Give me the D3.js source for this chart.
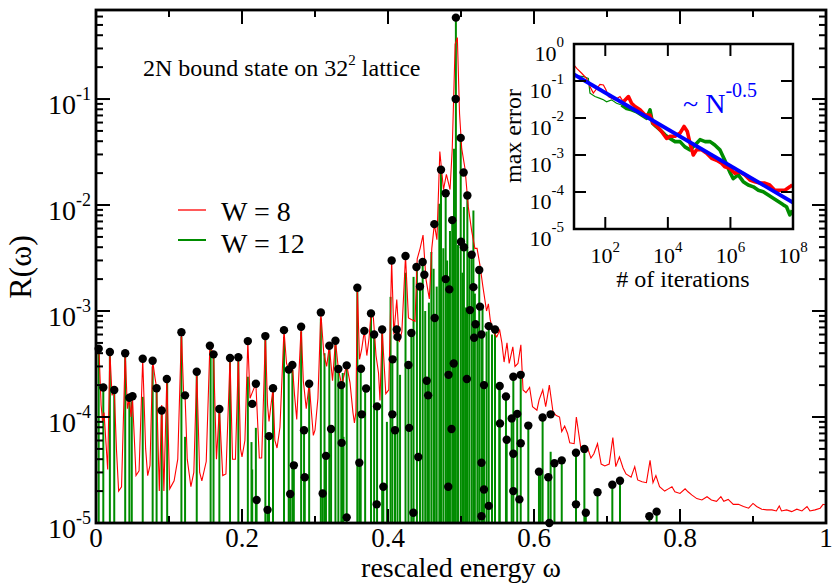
<!DOCTYPE html>
<html><head><meta charset="utf-8">
<script src="https://cdn.jsdelivr.net/npm/d3@7"></script>
<style>
body{margin:0;background:#fff}
svg{display:block}
text{font-family:"Liberation Serif","DejaVu Serif",serif;fill:#000}
</style>
</head><body>
<svg id="c" width="834" height="584"></svg>
<script>
// ---------------- DATA ----------------
const xTickValues = [0, 0.2, 0.4, 0.6, 0.8, 1];
const xTickLabels = ["0", "0.2", "0.4", "0.6", "0.8", "1"];
const yTickExponents = [-5, -4, -3, -2, -1];
const insetXExponents = [2, 4, 6, 8];
const insetYExponents = [0, -1, -2, -3, -4, -5];
const legendLabels = ["W = 8", "W = 12"];

// W = 8 (red line): [omega, R]
const redW8 = [
[0.000,3.8e-4],[0.004,4.4e-4],[0.007,1.3e-4],[0.009,9e-5],[0.011,1.1e-4],[0.016,3.2e-5],[0.019,4.1e-4],[0.022,1.6e-4],[0.025,1.8e-4],[0.028,5e-5],[0.031,2.0e-5],[0.035,2.2e-5],[0.040,4.0e-4],[0.043,1.2e-4],[0.0457,1.5e-4],[0.048,1.0e-4],[0.050,1.5e-4],[0.0548,2.8e-5],[0.059,3.1e-5],[0.064,3.5e-4],[0.068,5e-5],[0.0708,2.8e-5],[0.074,3.5e-5],[0.0776,3.4e-4],[0.081,2.3e-4],[0.083,1.9e-4],[0.0867,2.0e-5],[0.090,1.3e-4],[0.093,2.0e-5],[0.097,2.3e-4],[0.101,2.1e-5],[0.107,2.5e-5],[0.112,4e-5],[0.117,6.3e-4],[0.120,1.7e-4],[0.122,1.6e-4],[0.125,4e-5],[0.130,2.2e-5],[0.134,3e-5],[0.138,2.7e-4],[0.142,3e-5],[0.145,2.5e-5],[0.151,3.8e-5],[0.156,4.7e-4],[0.161,3.9e-4],[0.165,4e-5],[0.169,1.2e-4],[0.1736,2.8e-5],[0.178,2.9e-5],[0.1836,3.6e-4],[0.187,4e-5],[0.191,4.0e-5],[0.195,3.66e-4],[0.198,5e-5],[0.200,4.2e-5],[0.204,6e-5],[0.208,5.2e-4],[0.211,1.5e-4],[0.214,1.7e-4],[0.219,2.06e-4],[0.2237,4.1e-5],[0.227,4.1e-5],[0.232,5.8e-4],[0.235,1.3e-4],[0.237,9.1e-5],[0.2425,1.87e-4],[0.245,6e-5],[0.248,5.1e-5],[0.252,8e-5],[0.2575,6.6e-4],[0.261,3.2e-4],[0.264,2.8e-4],[0.269,3.1e-4],[0.272,1.6e-4],[0.275,9.5e-5],[0.281,7.1e-4],[0.284,2.2e-4],[0.288,1.2e-4],[0.292,2.06e-4],[0.2977,6.7e-5],[0.300,7.5e-5],[0.304,1.5e-4],[0.308,9.7e-4],[0.312,4.0e-4],[0.316,3.0e-4],[0.3196,4.7e-4],[0.324,2.2e-4],[0.328,5.25e-4],[0.332,2.84e-4],[0.3366,2.0e-4],
[0.3434,3.1e-4],[0.348,2.1e-4],[0.352,1.1e-4],[0.354,8.8e-5],[0.356,1.1e-4],[0.358,1.66e-3],[0.361,3.5e-4],[0.364,4.4e-4],[0.3676,6.5e-4],[0.371,3.8e-4],[0.374,5.5e-4],[0.3767,9.5e-4],[0.380,8.6e-4],[0.3836,3.8e-4],[0.387,2.6e-4],[0.389,1.43e-4],[0.392,6.7e-4],[0.397,1.66e-4],[0.401,1.8e-4],[0.405,3.0e-3],[0.408,6.0e-4],[0.412,1.28e-3],[0.4155,5.1e-4],[0.419,6.4e-4],[0.424,3.3e-3],[0.428,8.6e-4],[0.432,8.3e-4],[0.437,8.0e-4],[0.440,3.1e-3],[0.444,3.9e-3],[0.448,5.2e-3],[0.452,2.0e-3],[0.4566,1.3e-3],[0.460,3.9e-3],[0.4635,6.6e-3],[0.467,4.7e-3],[0.471,3.2e-2],[0.476,1.4e-2],[0.480,1.95e-2],[0.485,1.4e-2],[0.488,3.4e-2],[0.492,0.33],[0.495,0.38],[0.498,7.3e-2],[0.501,3.4e-2],[0.5055,2.2e-2],[0.510,9.6e-3],[0.5146,5.7e-3],[0.519,3.9e-3],[0.522,3.9e-3],[0.526,2.7e-3],[0.530,1.7e-3],[0.535,1.0e-3],[0.5375,1.17e-3],[0.540,8.3e-4],[0.544,6.4e-4],[0.549,5.7e-4],
[0.553,6.6e-4],[0.556,5e-4],[0.559,3.3e-4],[0.563,5e-4],[0.566,3.2e-4],[0.571,4.6e-4],[0.574,3.0e-4],[0.578,3.2e-4],[0.582,4.8e-4],[0.585,1.8e-4],[0.589,1.7e-4],[0.594,1.9e-4],[0.598,1.25e-4],[0.604,1.16e-4],[0.607,1.45e-4],[0.612,1.8e-4],[0.616,1.25e-4],[0.621,2.0e-4],[0.626,1.12e-4],[0.630,1.04e-4],[0.635,1.0e-4],[0.638,7.3e-5],[0.642,8.2e-5],[0.646,7e-5],[0.649,5.7e-5],[0.655,5.6e-5],[0.658,1.0e-4],[0.664,5.2e-5],[0.668,4.9e-5],[0.673,5.2e-5],[0.678,4.1e-5],[0.682,4.5e-5],[0.687,5.6e-5],[0.692,3.6e-5],[0.697,3.45e-5],[0.703,3.6e-5],[0.708,6.4e-5],[0.712,3.4e-5],[0.717,4.2e-5],[0.722,3.3e-5],[0.726,2.9e-5],[0.733,2.7e-5],[0.738,3.4e-5],[0.742,2.55e-5],[0.748,2.45e-5],[0.754,2.4e-5],[0.759,3.9e-5],[0.763,2.4e-5],[0.767,2.8e-5],[0.772,2.2e-5],[0.779,2.0e-5],[0.784,2.1e-5],[0.789,2.2e-5],[0.793,1.97e-5],[0.800,1.9e-5],[0.807,2.1e-5],[0.811,1.97e-5],[0.816,1.84e-5],[0.823,1.7e-5],[0.830,1.65e-5],[0.837,1.77e-5],[0.843,1.65e-5],[0.850,1.6e-5],[0.856,1.77e-5],[0.860,1.6e-5],[0.866,1.67e-5],[0.873,1.5e-5],[0.880,1.5e-5],[0.887,1.43e-5],[0.894,1.38e-5],[0.900,1.53e-5],[0.905,1.43e-5],[0.912,1.35e-5],[0.919,1.33e-5],[0.926,1.33e-5],[0.932,1.3e-5],[0.936,1.45e-5],[0.939,1.3e-5],[0.946,1.33e-5],[0.953,1.28e-5],[0.960,1.35e-5],[0.967,1.3e-5],[0.974,1.43e-5],[0.978,1.3e-5],[0.985,1.33e-5],[0.992,1.38e-5],[0.996,1.5e-5],[1.000,1.48e-5]
];

// W = 12 (green, spiky): [omega, R] of each spike top
const greenW12 = [
[0.0037,4.4e-4],[0.010,1.9e-4],[0.019,4.1e-4],[0.025,1.8e-4],[0.040,4.0e-4],[0.0457,1.5e-4],[0.049,1.4e-4],[0.064,1.55e-4],[0.0776,3.0e-4],[0.083,1.87e-4],[0.090,1.1e-4],[0.0975,2.2e-4],[0.117,5.7e-4],[0.122,6.5e-5],[0.138,2.6e-4],[0.157,4.3e-4],[0.161,3.9e-4],[0.169,1.16e-4],[0.1836,3.45e-4],[0.195,3.45e-4],[0.208,2.4e-4],[0.213,5.8e-5],[0.214,3.2e-5],[0.219,7.9e-5],[0.220,1.65e-5],[0.232,5.7e-4],[0.235,1.33e-5],[0.237,6.5e-5],[0.2425,1.8e-4],[0.2575,5.7e-4],[0.264,2.8e-4],[0.266,1.88e-5],[0.269,2.8e-4],[0.271,3.5e-5],[0.281,6.4e-4],[0.285,7.3e-5],[0.286,2.7e-5],[0.292,2.0e-4],[0.308,8.5e-4],[0.3105,1.9e-5],[0.313,4.0e-4],[0.315,4.3e-5],[0.3196,4.3e-4],[0.322,7.7e-5],[0.328,5.0e-4],[0.332,2.8e-4],[0.336,1.9e-4],[0.339,6.5e-5],
[0.338,2.6e-4],[0.3434,3.0e-4],[0.358,1.58e-3],[0.3607,3.7e-5],[0.3626,2.8e-4],[0.3687,1.86e-4],[0.3767,9.3e-4],[0.381,5.7e-4],[0.385,1.23e-4],[0.392,6.4e-4],[0.3936,2.2e-5],[0.3985,9e-5],[0.4035,1.36e-3],[0.406,3.5e-4],[0.4096,7.5e-5],[0.413,5.7e-4],[0.4165,2.5e-4],[0.424,2.3e-3],[0.428,3.1e-4],[0.432,6.2e-4],[0.4347,1.25e-5],[0.435,2.1e-3],[0.4396,2.5e-3],[0.4438,1.7e-3],[0.4475,2.9e-3],[0.451,1.0e-3],[0.4539,2.16e-4],[0.456,1.2e-3],[0.4594,3.6e-3],[0.4625,2.5e-3],[0.464,8.6e-4],[0.4667,1.7e-3],[0.4703,1.03e-2],[0.4726,2.0e-2],[0.4758,3.9e-3],[0.479,1.24e-2],[0.481,3e-3],[0.4826,1.98e-3],[0.4849,5.7e-3],[0.488,7.1e-3],[0.4904,3.4e-2],[0.493,0.586],[0.4959,4.2e-3],[0.4996,4.1e-2],[0.502,2.3e-3],[0.504,9.6e-3],[0.5068,1.08e-3],[0.5087,1.15e-2],[0.5114,3.6e-3],[0.5146,3.35e-3],[0.517,8.9e-3],[0.519,1.46e-3],[0.5224,8.0e-4],[0.525,2.4e-3],[0.528,5.7e-4],[0.5295,1.1e-3],[0.5315,2.0e-4],[0.535,6.4e-4],[0.538,6.9e-4],[0.5425,6.0e-4],[0.5466,6.4e-4],[0.5525,1.86e-4],
[0.553,1.96e-4],[0.5616,1.56e-4],[0.5626,6.1e-5],[0.5694,9.7e-5],[0.5717,2.4e-4],[0.577,1.07e-4],[0.5818,2.5e-4],[0.5922,8.3e-5],[0.6068,3.05e-5],[0.609,2.9e-5],[0.6118,9.9e-5],[0.6196,2.7e-5],[0.6228,4.7e-5],[0.628,3.66e-5],[0.638,3.9e-5],[0.6575,4.6e-5],[0.669,5.0e-5],[0.671,1.25e-5],[0.687,1.95e-5],[0.7073,2.3e-5],[0.7178,2.5e-5],[0.758,1.16e-5],[0.768,1.28e-5]
];

// black circles: [omega, R]
const exactDots = [
[0.0037,4.4e-4],[0.010,1.9e-4],[0.019,4.1e-4],[0.025,1.8e-4],[0.040,4.0e-4],[0.0457,1.52e-4],[0.050,1.57e-4],[0.064,3.55e-4],[0.0776,3.4e-4],[0.083,1.87e-4],[0.090,1.15e-4],[0.097,2.28e-4],[0.117,6.3e-4],[0.122,1.6e-4],[0.138,2.67e-4],[0.156,4.7e-4],[0.161,3.9e-4],[0.169,1.19e-4],[0.1836,3.6e-4],[0.195,3.66e-4],[0.208,5.2e-4],[0.214,1.33e-4],[0.219,2.06e-4],[0.220,1.65e-5],[0.232,5.8e-4],[0.235,1.33e-5],[0.237,6.6e-5],[0.2425,1.87e-4],[0.2575,6.6e-4],[0.264,2.8e-4],[0.266,1.88e-5],[0.269,3.1e-4],[0.271,3.5e-5],[0.281,7.1e-4],[0.285,7.5e-5],[0.286,2.7e-5],[0.292,2.06e-4],[0.308,9.7e-4],[0.3105,1.9e-5],[0.315,4.3e-5],[0.3196,4.7e-4],[0.322,7.7e-5],[0.328,5.25e-4],[0.332,2.84e-4],[0.336,2.0e-4],
[0.493,0.586],[0.4927,1.0e-1],[0.4996,4.3e-2],[0.4726,2.15e-2],[0.5036,2.03e-2],[0.479,1.29e-2],[0.5087,1.23e-2],[0.4635,6.6e-3],[0.488,7.2e-3],[0.500,4.5e-3],[0.504,4.0e-3],[0.5146,3.4e-3],[0.405,3.0e-3],[0.424,3.3e-3],[0.439,2.6e-3],[0.4475,2.9e-3],[0.4498,2.2e-3],[0.4438,1.7e-3],[0.525,2.44e-3],[0.479,2.0e-3],[0.484,1.6e-3],[0.517,1.68e-3],[0.358,1.66e-3],[0.3767,9.5e-4],[0.3676,6.5e-4],[0.381,6.0e-4],[0.392,6.7e-4],[0.412,6.7e-4],[0.413,5.7e-4],[0.432,6.2e-4],[0.464,8.6e-4],[0.5123,1.02e-3],[0.526,1.1e-3],[0.520,7.5e-4],[0.518,5.6e-4],[0.528,6.0e-4],[0.538,7.2e-4],[0.5466,6.7e-4],[0.3434,3.07e-4],[0.363,2.85e-4],[0.370,1.86e-4],[0.4064,3.5e-4],[0.428,3.1e-4],[0.453,2.2e-4],[0.455,1.6e-4],[0.490,3.2e-4],[0.483,2.5e-4],[0.508,2.28e-4],[0.5315,2.0e-4],[0.385,1.26e-4],[0.364,1.06e-4],[0.406,1.06e-4],[0.4096,7.5e-5],[0.429,7.9e-5],[0.487,7.7e-5],[0.3365,5.7e-5],[0.3607,3.7e-5],[0.4415,4.2e-5],[0.528,3.7e-5],[0.3936,2.2e-5],[0.4826,2.2e-5],[0.5315,2.07e-5],[0.3845,1.5e-5],[0.4347,1.25e-5],[0.538,1.45e-5],[0.3434,1.13e-5],[0.528,1.16e-5],
[0.553,1.96e-4],[0.5534,8.7e-5],[0.5616,1.56e-4],[0.5626,6.1e-5],[0.5717,2.4e-4],[0.5818,2.5e-4],[0.5694,9.7e-5],[0.577,1.07e-4],[0.5717,4.5e-5],[0.5818,5.65e-5],[0.5922,8.3e-5],[0.5717,2.0e-5],[0.580,1.67e-5],[0.6118,9.9e-5],[0.6228,1.06e-4],[0.6068,3.05e-5],[0.6196,2.7e-5],[0.628,3.66e-5],[0.638,3.9e-5],[0.621,1.0e-5],[0.6575,4.6e-5],[0.669,5.0e-5],[0.6575,1.5e-5],[0.671,1.25e-5],[0.687,1.95e-5],[0.7073,2.3e-5],[0.7178,2.5e-5],[0.758,1.16e-5],[0.768,1.28e-5]
];

// inset: [iterations, max error]
const insetRedW8 = [
[10,0.27],[12.2,0.22],[17.6,0.162],[25.4,0.117],[32.4,0.071],[41.4,0.047],[50,0.058],[67.6,0.081],[87,0.078],[105,0.058],[126,0.038],[158,0.034],[204,0.031],[295,0.038],[380,0.0275],[550,0.038],[692,0.025],[891,0.0204],[1290,0.0166],[1860,0.012],[2690,0.012],[3390,0.0072],[4570,0.0059],[6310,0.0043],[9120,0.0028],[1.17e4,0.0032],[1.7e4,0.0032],[2.45e4,0.0039],[3.3e4,0.0059],[4.2e4,0.0043],[5.1e4,0.0021],[6.5e4,0.001],[8.3e4,0.00138],[1.2e5,0.00138],[1.74e5,0.00112],[2.5e5,0.00081],[3.6e5,0.00072],[5.2e5,0.0006],[6.6e5,0.00048],[9.5e5,0.00044],[1.38e6,0.00032],[2.0e6,0.00035],[2.9e6,0.00029],[4.2e6,0.00021],[6.0e6,0.00019],[8.7e6,0.000174],[1.26e7,0.000174],[1.8e7,0.000155],[2.6e7,0.000112],[3.8e7,0.000112],[5.5e7,0.000112],[7.9e7,0.000138],[9.5e7,0.000155]
];
const insetGreenW12 = [
[10,0.145],[12.3,0.138],[20,0.132],[28.8,0.117],[32.4,0.047],[46.8,0.038],[67.6,0.034],[87,0.031],[110,0.0275],[158,0.031],[229,0.025],[331,0.0224],[479,0.018],[692,0.0166],[1000,0.0148],[1445,0.012],[2090,0.0098],[2690,0.0166],[3240,0.0072],[4170,0.0059],[5620,0.0048],[8130,0.0035],[1.17e4,0.0028],[1.7e4,0.0023],[2.45e4,0.0023],[3.5e4,0.00166],[5.1e4,0.00138],[7.4e4,0.00186],[1.07e5,0.0026],[1.55e5,0.0023],[2.24e5,0.0023],[3.16e5,0.00186],[4.6e5,0.00138],[6.6e5,0.00072],[9.5e5,0.00035],[1.23e6,0.00023],[1.78e6,0.00029],[2.57e6,0.00019],[3.7e6,0.000155],[5.4e6,0.000138],[7.8e6,0.000112],[1.12e7,0.000102],[1.62e7,8.3e-5],[2.34e7,6.8e-5],[3.4e7,5.5e-5],[4.9e7,4.5e-5],[6.2e7,4.0e-5],[7.9e7,2.4e-5],[9.5e7,3.2e-5]
];
const insetFit = [[10,0.15],[1e8,5.2e-5]];

// ---------------- DRAW ----------------
const svg = d3.select('#c');
svg.append('rect').attr('width',834).attr('height',584).attr('fill','#fff');
const M = {l:96, r:826, t:10, b:523};
const x = d3.scaleLinear().domain([0,1]).range([M.l,M.r]);
const y = d3.scaleLog().domain([1e-5, Math.pow(10,-0.16)]).range([M.b,M.t]);
const RED = '#ff0000', GREEN = '#008c00', BLUE = '#0000ff';

const defs = svg.append('defs');
defs.append('clipPath').attr('id','mainClip').append('rect')
  .attr('x',M.l).attr('y',M.t).attr('width',M.r-M.l).attr('height',M.b-M.t);

const plot = svg.append('g').attr('clip-path','url(#mainClip)');
plot.selectAll('line.stem').data(greenW12).enter().append('line')
  .attr('x1',d=>x(d[0])).attr('x2',d=>x(d[0]))
  .attr('y1',M.b+3).attr('y2',d=>y(d[1]))
  .attr('stroke',GREEN).attr('stroke-width',2.0);
plot.append('path').datum(redW8)
  .attr('d',d3.line().x(d=>x(d[0])).y(d=>y(d[1])))
  .attr('fill','none').attr('stroke',RED).attr('stroke-width',1.1);

svg.append('g').selectAll('circle').data(exactDots).enter().append('circle')
  .attr('cx',d=>x(d[0])).attr('cy',d=>y(d[1])).attr('r',4.2).attr('fill','#000');

// axes frame
const ax = svg.append('g').attr('stroke','#000');
ax.append('rect').attr('x',M.l).attr('y',M.t).attr('width',M.r-M.l).attr('height',M.b-M.t)
  .attr('fill','none').attr('stroke-width',2.8);
d3.range(0,11).forEach(i=>{
  const v=i/10, px=x(v), len=(i%2===0)?14:7;
  ax.append('line').attr('x1',px).attr('x2',px).attr('y1',M.b).attr('y2',M.b-len).attr('stroke-width',2);
  ax.append('line').attr('x1',px).attr('x2',px).attr('y1',M.t).attr('y2',M.t+len).attr('stroke-width',2);
});
y.ticks().forEach(t=>{
  const lg=Math.log10(t), major=Math.abs(lg-Math.round(lg))<1e-6, py=y(t), len=major?14:7;
  ax.append('line').attr('x1',M.l).attr('x2',M.l+len).attr('y1',py).attr('y2',py).attr('stroke-width',2);
  ax.append('line').attr('x1',M.r).attr('x2',M.r-len).attr('y1',py).attr('y2',py).attr('stroke-width',2);
});

// tick labels
xTickValues.forEach((v,i)=>{
  svg.append('text').attr('x',x(v)).attr('y',547).attr('text-anchor','middle')
    .attr('font-size',27).text(xTickLabels[i]);
});
yTickExponents.forEach(e=>{
  const py=y(Math.pow(10,e));
  const t=svg.append('text').attr('x',91).attr('y',py+15).attr('text-anchor','end').attr('font-size',28);
  t.append('tspan').text('10');
  t.append('tspan').attr('dy',-14).attr('font-size',18).text(String(e));
});
svg.append('text').attr('x',461).attr('y',577).attr('text-anchor','middle').attr('font-size',28)
  .text('rescaled energy ω');
svg.append('text').attr('transform','translate(31,267) rotate(-90)').attr('text-anchor','middle')
  .attr('font-size',32).text('R(ω)');

// annotation
const ann = svg.append('text').attr('x',143).attr('y',76).attr('font-size',24);
ann.append('tspan').text('2N bound state on 32');
ann.append('tspan').attr('dy',-11).attr('font-size',15).text('2');
ann.append('tspan').attr('dy',11).text(' lattice');

// legend
const legColors=[RED,GREEN], legLineY=[210,240], legTextY=[221,253], legW=[1.3,2];
legendLabels.forEach((lab,i)=>{
  svg.append('line').attr('x1',178).attr('x2',206).attr('y1',legLineY[i]).attr('y2',legLineY[i])
    .attr('stroke',legColors[i]).attr('stroke-width',legW[i]);
  svg.append('text').attr('x',221).attr('y',legTextY[i]).attr('font-size',28).text(lab);
});

// ---------------- INSET ----------------
const I = {l:574, r:793, t:44, b:229};
const xi = d3.scaleLog().domain([10,1e8]).range([I.l,I.r]);
const yi = d3.scaleLog().domain([1e-5,1]).range([I.b,I.t]);
svg.append('rect').attr('x',I.l).attr('y',I.t).attr('width',I.r-I.l).attr('height',I.b-I.t).attr('fill','#fff');
defs.append('clipPath').attr('id','insetClip').append('rect')
  .attr('x',I.l).attr('y',I.t).attr('width',I.r-I.l).attr('height',I.b-I.t);
const ig = svg.append('g').attr('clip-path','url(#insetClip)');
const li = d3.line().x(d=>xi(d[0])).y(d=>yi(d[1]));
[[insetGreenW12,GREEN,250],[insetRedW8,RED,300]].forEach(([data,col,thr])=>{
  ig.append('path').datum(data).attr('d',li).attr('fill','none').attr('stroke',col).attr('stroke-width',1.2);
  ig.append('path').datum(data.filter(d=>d[0]>=thr)).attr('d',li).attr('fill','none')
    .attr('stroke',col).attr('stroke-width',3.6).attr('stroke-linejoin','round');
});
ig.append('path').datum(insetFit).attr('d',li).attr('fill','none').attr('stroke',BLUE).attr('stroke-width',3.8);

const iax = svg.append('g').attr('stroke','#000');
iax.append('rect').attr('x',I.l).attr('y',I.t).attr('width',I.r-I.l).attr('height',I.b-I.t)
  .attr('fill','none').attr('stroke-width',2.5);
insetXExponents.forEach(e=>{
  const px=xi(Math.pow(10,e));
  iax.append('line').attr('x1',px).attr('x2',px).attr('y1',I.b).attr('y2',I.b-12).attr('stroke-width',2);
  iax.append('line').attr('x1',px).attr('x2',px).attr('y1',I.t).attr('y2',I.t+12).attr('stroke-width',2);
  const t=svg.append('text').attr('x',px).attr('y',263).attr('text-anchor','middle').attr('font-size',22);
  t.append('tspan').text('10');
  t.append('tspan').attr('dy',-11).attr('font-size',15).text(String(e));
});
insetYExponents.forEach(e=>{
  const py=yi(Math.pow(10,e));
  iax.append('line').attr('x1',I.l).attr('x2',I.l+12).attr('y1',py).attr('y2',py).attr('stroke-width',2);
  iax.append('line').attr('x1',I.r).attr('x2',I.r-12).attr('y1',py).attr('y2',py).attr('stroke-width',2);
  const t=svg.append('text').attr('x',564).attr('y',py+17).attr('text-anchor','end').attr('font-size',22);
  t.append('tspan').text('10');
  t.append('tspan').attr('dy',-14).attr('font-size',15).text(String(e));
});
svg.append('text').attr('x',683).attr('y',287).attr('text-anchor','middle').attr('font-size',24).text('# of iterations');
svg.append('text').attr('transform','translate(521,136) rotate(-90)').attr('text-anchor','middle')
  .attr('font-size',24).text('max error');
const nt = svg.append('text').attr('x',683).attr('y',113).attr('font-size',28).style('fill',BLUE);
nt.append('tspan').text('~ N');
nt.append('tspan').attr('dy',-16).attr('font-size',20).text('-0.5');
</script>
</body></html>
